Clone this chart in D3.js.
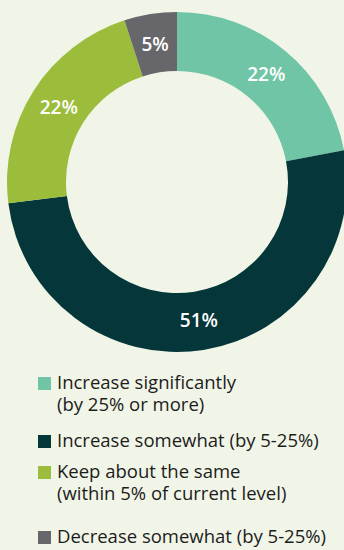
<!DOCTYPE html>
<html>
<head>
<meta charset="utf-8">
<script src="https://cdn.jsdelivr.net/npm/d3@7"></script>
<style>
  html, body { margin: 0; padding: 0; background: #f1f5e7; }
  svg { display: block; }
</style>
</head>
<body>
<svg id="chart" width="344" height="550"></svg>
<script>
// chart data
const categories = ["Increase significantly (by 25% or more)", "Increase somewhat (by 5-25%)",
  "Keep about the same (within 5% of current level)", "Decrease somewhat (by 5-25%)"];
const values = [22, 51, 22, 5];
const colors = ["#6fc5a6", "#04363a", "#9bbd3b", "#67676b"];
// legend text, split into lines as in the original
const legendLines = [
  ["Increase significantly", "(by 25% or more)"],
  ["Increase somewhat (by 5-25%)"],
  ["Keep about the same", "(within 5% of current level)"],
  ["Decrease somewhat (by 5-25%)"]
];

const svg = d3.select("#chart");
const cx = 177, cy = 182, outerR = 170, innerR = 111;

const pie = d3.pie().sort(null).value(d => d);
const arc = d3.arc().innerRadius(innerR).outerRadius(outerR);
const labelArc = d3.arc().innerRadius(140).outerRadius(140);

const g = svg.append("g").attr("transform", `translate(${cx},${cy})`);
const slices = pie(values);

g.selectAll("path.slice")
  .data(slices)
  .join("path")
  .attr("class", "slice")
  .attr("d", arc)
  .attr("fill", (d, i) => colors[i]);

g.selectAll("text.pct")
  .data(slices)
  .join("text")
  .attr("class", "pct")
  .attr("transform", d => `translate(${labelArc.centroid(d)})`)
  .attr("text-anchor", "middle")
  .attr("dy", "0.36em")
  .attr("fill", "#ffffff")
  .attr("font-family", "'Open Sans', sans-serif")
  .attr("font-weight", 600)
  .attr("font-size", 19)
  .text(d => d.data + "%");

// legend
const legend = svg.append("g").attr("transform", "translate(38,0)");
const rowTops = [377, 435, 466, 531];
const lineH = 22;

legendLines.forEach((lines, i) => {
  const row = legend.append("g").attr("transform", `translate(0,${rowTops[i]})`);
  row.append("rect")
    .attr("width", 13).attr("height", 13)
    .attr("fill", colors[i]);
  // one text per entry, extra lines as tspans
  row.append("text")
    .attr("y", 12)
    .attr("fill", "#1c1c1c")
    .attr("font-family", "'Open Sans', sans-serif")
    .attr("font-size", 18.5)
    .selectAll("tspan")
    .data(lines)
    .join("tspan")
    .attr("x", 19)
    .attr("dy", (d, j) => j === 0 ? 0 : lineH)
    .text(d => d);
});
</script>
</body>
</html>
